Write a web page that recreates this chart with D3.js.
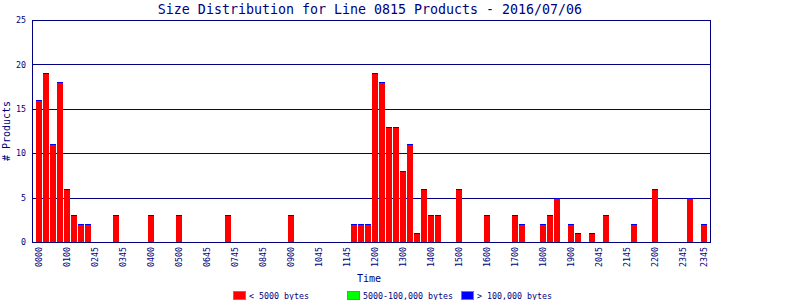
<!DOCTYPE html>
<html>
<head>
  <meta charset="UTF-8">
  <style>
    body { margin: 0; background: #fff; }
    svg { display: block; font-family: "DejaVu Sans Mono", monospace; }
  </style>
</head>
<body>
<svg></svg>
<script src="https://d3js.org/d3.v7.min.js"></script>

<script>

let width = 800, height = 300;
const navy = "#000080";

// 96 quarter-hour slots, counts per slot
const slots = d3.range(96);
const small = [16,19,11,18,6,3,2,2,0,0,0,3,0,0,0,0,3,0,0,0,3,0,0,0,0,0,0,3,0,0,0,0,
               0,0,0,0,3,0,0,0,0,0,0,0,0,2,2,2,19,18,13,13,8,11,1,6,3,3,0,0,6,0,0,0,
               3,0,0,0,3,2,0,0,2,3,5,0,2,1,0,1,0,3,0,0,0,2,0,0,6,0,0,0,0,5,0,2];
const medium = slots.map(() => 0);
const large = slots.map(() => 0);

// tick labels shown under every 4th slot (plus the last one)
const tickSlots = [0,4,8,12,16,20,24,28,32,36,40,44,48,52,56,60,64,68,72,76,80,84,88,92,95];
const tickLabels = ["0000","0100","0245","0345","0400","0500","0645","0745","0845","0900",
                    "1045","1145","1200","1300","1400","1500","1600","1700","1800","1900",
                    "2045","2145","2200","2345","2345"];
const yTicks = [0, 5, 10, 15, 20, 25];

const legendItems = ["< 5000 bytes", "5000-100,000 bytes", "> 100,000 bytes"];
const colors = ["#ff0000", "#00ff00", "#0000ff"];

let svg = d3.select("svg")
    .attr("width", width)
    .attr("height", height);

const plotLeft = 32, plotRight = 710, plotTop = 20, plotBottom = 242;

let x = d3.scaleBand()
    .domain(slots)
    .range([35.5, 707.5])
    .paddingInner(1/7)
    .paddingOuter(1/14);

let y = d3.scaleLinear()
    .domain([0, 25])
    .range([plotBottom, plotTop]);

// title
svg.append("text")
    .attr("x", 370)
    .attr("y", 14)
    .attr("text-anchor", "middle")
    .style("font-size", "13.3px")
    .style("fill", navy)
    .text("Size Distribution for Line 0815 Products - 2016/07/06");

// gridlines
svg.append("g")
    .selectAll("line")
    .data(yTicks)
    .enter()
    .append("line")
    .attr("x1", plotLeft)
    .attr("x2", plotRight)
    .attr("y1", d => Math.round(y(d)) + 0.5)
    .attr("y2", d => Math.round(y(d)) + 0.5)
    .style("stroke", navy)
    .style("stroke-width", 1)
    .attr("shape-rendering", "crispEdges");

// bars
let stacked = slots.map(i => ({ i: i, s: small[i], m: medium[i], l: large[i] }));

let bars = svg.append("g")
    .selectAll("g")
    .data(stacked.filter(d => d.s + d.m + d.l > 0))
    .enter()
    .append("g");

bars.append("rect")
    .attr("x", d => x(d.i))
    .attr("width", x.bandwidth())
    .attr("y", d => Math.round(y(d.s)))
    .attr("height", d => plotBottom - Math.round(y(d.s)))
    .style("fill", colors[0])
    .attr("shape-rendering", "crispEdges");

bars.filter(d => d.m > 0).append("rect")
    .attr("x", d => x(d.i))
    .attr("width", x.bandwidth())
    .attr("y", d => Math.round(y(d.s + d.m)))
    .attr("height", d => Math.round(y(d.s)) - Math.round(y(d.s + d.m)))
    .style("fill", colors[1])
    .attr("shape-rendering", "crispEdges");

// top segment (large files), drawn at least one pixel high
bars.append("rect")
    .attr("x", d => x(d.i))
    .attr("width", x.bandwidth())
    .attr("y", d => Math.round(y(d.s + d.m + d.l)))
    .attr("height", d => Math.max(1, Math.round(y(d.s + d.m)) - Math.round(y(d.s + d.m + d.l))))
    .style("fill", colors[2])
    .attr("shape-rendering", "crispEdges");

// plot frame
svg.append("rect")
    .attr("x", plotLeft + 0.5)
    .attr("y", Math.round(y(25)) + 0.5)
    .attr("width", plotRight - plotLeft)
    .attr("height", plotBottom - Math.round(y(25)))
    .style("fill", "none")
    .style("stroke", navy)
    .style("stroke-width", 1.5)
    .attr("shape-rendering", "crispEdges");

// y axis labels
let yAxis = svg.append("g")
    .attr("transform", "translate(" + plotLeft + ",0)")
    .call(d3.axisLeft(y).tickValues(yTicks).tickSize(0).tickPadding(6));
yAxis.select(".domain").remove();
yAxis.selectAll("text")
    .style("font-family", "'DejaVu Sans Mono', monospace")
    .style("font-size", "8.3px")
    .style("fill", navy);

// x axis labels, rotated
let xAxis = svg.append("g")
    .attr("transform", "translate(0," + plotBottom + ")")
    .call(d3.axisBottom(x)
        .tickValues(tickSlots)
        .tickSize(0)
        .tickFormat(d => tickLabels[tickSlots.indexOf(d)]));
xAxis.select(".domain").remove();
xAxis.selectAll("text")
    .attr("transform", "rotate(-90)")
    .attr("x", -5)
    .attr("y", 0)
    .attr("dy", "0.35em")
    .attr("text-anchor", "end")
    .style("font-family", "'DejaVu Sans Mono', monospace")
    .style("font-size", "8.3px")
    .style("fill", navy);

// axis titles
svg.append("text")
    .attr("x", 369)
    .attr("y", 282)
    .attr("text-anchor", "middle")
    .style("font-size", "10px")
    .style("fill", navy)
    .text("Time");

svg.append("text")
    .attr("transform", "translate(10,131) rotate(-90)")
    .attr("text-anchor", "middle")
    .style("font-size", "10px")
    .style("fill", navy)
    .text("# Products");

// legend
const legendX = [233, 347, 461];
let legend = svg.selectAll("g.legendEntry")
    .data(legendItems)
    .enter()
    .append("g")
    .attr("class", "legendEntry")
    .attr("transform", (d, i) => "translate(" + legendX[i] + ",291)");

legend.append("rect")
    .attr("x", 0.5)
    .attr("y", 0.5)
    .attr("width", 12)
    .attr("height", 8)
    .style("fill", (d, i) => colors[i])
    .style("stroke", "#808080");

legend.append("text")
    .attr("x", 16)
    .attr("y", 7.5)
    .style("font-size", "8.3px")
    .style("fill", navy)
    .text(d => d);

</script>

</body>
</html>
